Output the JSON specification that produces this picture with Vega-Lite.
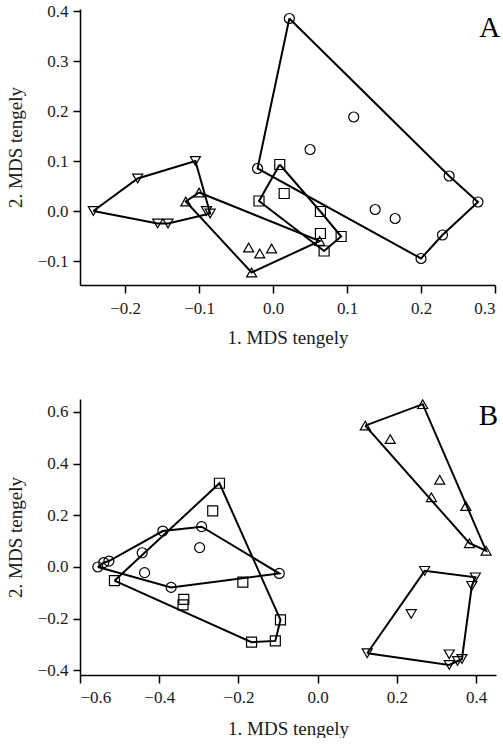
{
  "$schema": "https://vega.github.io/schema/vega-lite/v6.json",
  "background": "white",
  "padding": {"left": 6, "top": 2, "right": 0, "bottom": 0},
  "spacing": 50,
  "config": {
    "view": {"stroke": null}
  },
  "datasets": {
    "points": [
      {"panel": "A", "group": "circle", "x": 0.022, "y": 0.385},
      {"panel": "A", "group": "circle", "x": -0.021, "y": 0.085},
      {"panel": "A", "group": "circle", "x": 0.05, "y": 0.123},
      {"panel": "A", "group": "circle", "x": 0.109, "y": 0.188},
      {"panel": "A", "group": "circle", "x": 0.238, "y": 0.07},
      {"panel": "A", "group": "circle", "x": 0.277, "y": 0.018},
      {"panel": "A", "group": "circle", "x": 0.229, "y": -0.048},
      {"panel": "A", "group": "circle", "x": 0.2, "y": -0.095},
      {"panel": "A", "group": "circle", "x": 0.138, "y": 0.003},
      {"panel": "A", "group": "circle", "x": 0.165, "y": -0.015},
      {"panel": "A", "group": "square", "x": 0.009, "y": 0.093},
      {"panel": "A", "group": "square", "x": 0.015, "y": 0.035},
      {"panel": "A", "group": "square", "x": -0.019, "y": 0.02},
      {"panel": "A", "group": "square", "x": 0.064, "y": -0.001},
      {"panel": "A", "group": "square", "x": 0.064, "y": -0.045},
      {"panel": "A", "group": "square", "x": 0.069, "y": -0.08},
      {"panel": "A", "group": "square", "x": 0.092, "y": -0.051},
      {"panel": "A", "group": "up", "x": -0.1, "y": 0.037},
      {"panel": "A", "group": "up", "x": -0.118, "y": 0.019},
      {"panel": "A", "group": "up", "x": -0.029, "y": -0.123},
      {"panel": "A", "group": "up", "x": -0.033, "y": -0.073},
      {"panel": "A", "group": "up", "x": -0.018, "y": -0.085},
      {"panel": "A", "group": "up", "x": -0.002, "y": -0.075},
      {"panel": "A", "group": "up", "x": 0.063, "y": -0.06},
      {"panel": "A", "group": "down", "x": -0.243, "y": 0.0},
      {"panel": "A", "group": "down", "x": -0.183, "y": 0.065},
      {"panel": "A", "group": "down", "x": -0.105, "y": 0.1},
      {"panel": "A", "group": "down", "x": -0.156, "y": -0.025},
      {"panel": "A", "group": "down", "x": -0.142, "y": -0.025},
      {"panel": "A", "group": "down", "x": -0.09, "y": 0.0},
      {"panel": "A", "group": "down", "x": -0.085, "y": -0.005},
      {"panel": "B", "group": "circle", "x": -0.555, "y": 0.0},
      {"panel": "B", "group": "circle", "x": -0.54, "y": 0.017},
      {"panel": "B", "group": "circle", "x": -0.527, "y": 0.023},
      {"panel": "B", "group": "circle", "x": -0.443, "y": 0.055},
      {"panel": "B", "group": "circle", "x": -0.391, "y": 0.139},
      {"panel": "B", "group": "circle", "x": -0.293, "y": 0.156},
      {"panel": "B", "group": "circle", "x": -0.298, "y": 0.075},
      {"panel": "B", "group": "circle", "x": -0.437, "y": -0.022},
      {"panel": "B", "group": "circle", "x": -0.37, "y": -0.079},
      {"panel": "B", "group": "circle", "x": -0.097, "y": -0.025},
      {"panel": "B", "group": "square", "x": -0.248, "y": 0.324},
      {"panel": "B", "group": "square", "x": -0.265, "y": 0.217},
      {"panel": "B", "group": "square", "x": -0.513, "y": -0.053},
      {"panel": "B", "group": "square", "x": -0.338, "y": -0.125},
      {"panel": "B", "group": "square", "x": -0.34, "y": -0.147},
      {"panel": "B", "group": "square", "x": -0.189, "y": -0.059},
      {"panel": "B", "group": "square", "x": -0.094, "y": -0.205},
      {"panel": "B", "group": "square", "x": -0.107, "y": -0.286},
      {"panel": "B", "group": "square", "x": -0.167, "y": -0.291},
      {"panel": "B", "group": "up", "x": 0.265, "y": 0.63},
      {"panel": "B", "group": "up", "x": 0.12, "y": 0.547},
      {"panel": "B", "group": "up", "x": 0.183, "y": 0.495},
      {"panel": "B", "group": "up", "x": 0.308, "y": 0.337},
      {"panel": "B", "group": "up", "x": 0.287, "y": 0.27},
      {"panel": "B", "group": "up", "x": 0.374, "y": 0.236},
      {"panel": "B", "group": "up", "x": 0.383, "y": 0.092},
      {"panel": "B", "group": "up", "x": 0.425, "y": 0.063},
      {"panel": "B", "group": "down", "x": 0.27, "y": -0.015},
      {"panel": "B", "group": "down", "x": 0.398, "y": -0.04},
      {"panel": "B", "group": "down", "x": 0.389, "y": -0.073},
      {"panel": "B", "group": "down", "x": 0.236, "y": -0.182},
      {"panel": "B", "group": "down", "x": 0.125, "y": -0.334},
      {"panel": "B", "group": "down", "x": 0.332, "y": -0.338},
      {"panel": "B", "group": "down", "x": 0.332, "y": -0.379},
      {"panel": "B", "group": "down", "x": 0.353, "y": -0.364},
      {"panel": "B", "group": "down", "x": 0.364, "y": -0.356}
    ],
    "hulls": [
      {"panel": "A", "group": "circle", "order": 1, "x": 0.022, "y": 0.385},
      {"panel": "A", "group": "circle", "order": 2, "x": 0.238, "y": 0.07},
      {"panel": "A", "group": "circle", "order": 3, "x": 0.277, "y": 0.018},
      {"panel": "A", "group": "circle", "order": 4, "x": 0.229, "y": -0.048},
      {"panel": "A", "group": "circle", "order": 5, "x": 0.2, "y": -0.095},
      {"panel": "A", "group": "circle", "order": 6, "x": -0.021, "y": 0.085},
      {"panel": "A", "group": "circle", "order": 7, "x": 0.022, "y": 0.385},
      {"panel": "A", "group": "square", "order": 1, "x": 0.009, "y": 0.093},
      {"panel": "A", "group": "square", "order": 2, "x": 0.064, "y": -0.001},
      {"panel": "A", "group": "square", "order": 3, "x": 0.092, "y": -0.051},
      {"panel": "A", "group": "square", "order": 4, "x": 0.069, "y": -0.08},
      {"panel": "A", "group": "square", "order": 5, "x": -0.019, "y": 0.02},
      {"panel": "A", "group": "square", "order": 6, "x": 0.009, "y": 0.093},
      {"panel": "A", "group": "up", "order": 1, "x": -0.1, "y": 0.037},
      {"panel": "A", "group": "up", "order": 2, "x": 0.063, "y": -0.06},
      {"panel": "A", "group": "up", "order": 3, "x": -0.029, "y": -0.123},
      {"panel": "A", "group": "up", "order": 4, "x": -0.118, "y": 0.019},
      {"panel": "A", "group": "up", "order": 5, "x": -0.1, "y": 0.037},
      {"panel": "A", "group": "down", "order": 1, "x": -0.243, "y": 0.0},
      {"panel": "A", "group": "down", "order": 2, "x": -0.183, "y": 0.065},
      {"panel": "A", "group": "down", "order": 3, "x": -0.105, "y": 0.1},
      {"panel": "A", "group": "down", "order": 4, "x": -0.085, "y": -0.005},
      {"panel": "A", "group": "down", "order": 5, "x": -0.142, "y": -0.025},
      {"panel": "A", "group": "down", "order": 6, "x": -0.156, "y": -0.025},
      {"panel": "A", "group": "down", "order": 7, "x": -0.243, "y": 0.0},
      {"panel": "B", "group": "circle", "order": 1, "x": -0.555, "y": 0.0},
      {"panel": "B", "group": "circle", "order": 2, "x": -0.54, "y": 0.017},
      {"panel": "B", "group": "circle", "order": 3, "x": -0.527, "y": 0.023},
      {"panel": "B", "group": "circle", "order": 4, "x": -0.391, "y": 0.139},
      {"panel": "B", "group": "circle", "order": 5, "x": -0.293, "y": 0.156},
      {"panel": "B", "group": "circle", "order": 6, "x": -0.097, "y": -0.025},
      {"panel": "B", "group": "circle", "order": 7, "x": -0.37, "y": -0.079},
      {"panel": "B", "group": "circle", "order": 8, "x": -0.555, "y": 0.0},
      {"panel": "B", "group": "square", "order": 1, "x": -0.513, "y": -0.053},
      {"panel": "B", "group": "square", "order": 2, "x": -0.248, "y": 0.324},
      {"panel": "B", "group": "square", "order": 3, "x": -0.094, "y": -0.205},
      {"panel": "B", "group": "square", "order": 4, "x": -0.107, "y": -0.286},
      {"panel": "B", "group": "square", "order": 5, "x": -0.167, "y": -0.291},
      {"panel": "B", "group": "square", "order": 6, "x": -0.513, "y": -0.053},
      {"panel": "B", "group": "up", "order": 1, "x": 0.12, "y": 0.547},
      {"panel": "B", "group": "up", "order": 2, "x": 0.265, "y": 0.63},
      {"panel": "B", "group": "up", "order": 3, "x": 0.425, "y": 0.063},
      {"panel": "B", "group": "up", "order": 4, "x": 0.383, "y": 0.092},
      {"panel": "B", "group": "up", "order": 5, "x": 0.12, "y": 0.547},
      {"panel": "B", "group": "down", "order": 1, "x": 0.125, "y": -0.334},
      {"panel": "B", "group": "down", "order": 2, "x": 0.27, "y": -0.015},
      {"panel": "B", "group": "down", "order": 3, "x": 0.398, "y": -0.04},
      {"panel": "B", "group": "down", "order": 4, "x": 0.389, "y": -0.073},
      {"panel": "B", "group": "down", "order": 5, "x": 0.364, "y": -0.356},
      {"panel": "B", "group": "down", "order": 6, "x": 0.332, "y": -0.379},
      {"panel": "B", "group": "down", "order": 7, "x": 0.125, "y": -0.334}
    ],
    "labels": [
      {"panel": "A", "x": 0.293, "y": 0.366, "text": "A"},
      {"panel": "B", "x": 0.431, "y": 0.583, "text": "B"}
    ]
  },
  "vconcat": [
    {
      "width": 415,
      "height": 276,
      "layer": [
        {
          "data": {"name": "hulls"},
          "transform": [{"filter": "datum.panel === 'A'"}],
          "mark": {"type": "line", "color": "black", "strokeWidth": 2},
          "encoding": {
            "x": {"field": "x", "type": "quantitative", "scale": {"domain": [-0.261, 0.3], "nice": false, "zero": false},
              "axis": {"values": [-0.2, -0.1, 0, 0.1, 0.2, 0.3], "format": ".1f", "title": "1. MDS tengely", "titlePadding": 12, "grid": false,
                "domainColor": "black", "domainWidth": 1.5, "tickColor": "black", "tickWidth": 1.5, "tickSize": 8, "labelPadding": 7,
                "labelFont": "Liberation Serif", "labelFontSize": 17, "labelColor": "#1a1a1a", "titleFont": "Liberation Serif", "titleFontSize": 19, "titleFontWeight": "normal", "titleColor": "#1a1a1a"}},
            "y": {"field": "y", "type": "quantitative", "scale": {"domain": [-0.148, 0.404], "nice": false, "zero": false},
              "axis": {"values": [-0.1, 0, 0.1, 0.2, 0.3, 0.4], "format": ".1f", "title": "2. MDS tengely", "titlePadding": 12, "grid": false,
                "domainColor": "black", "domainWidth": 1.5, "tickColor": "black", "tickWidth": 1.5, "tickSize": 7, "labelPadding": 5,
                "labelFont": "Liberation Serif", "labelFontSize": 17, "labelColor": "#1a1a1a", "titleFont": "Liberation Serif", "titleFontSize": 19, "titleFontWeight": "normal", "titleColor": "#1a1a1a"}},
            "detail": {"field": "group"},
            "order": {"field": "order", "type": "quantitative"}
          }
        },
        {
          "data": {"name": "points"},
          "transform": [{"filter": "datum.panel === 'A'"}],
          "mark": {"type": "point", "filled": false, "color": "black", "strokeWidth": 1.2, "size": 100, "opacity": 1},
          "encoding": {
            "x": {"field": "x", "type": "quantitative"},
            "y": {"field": "y", "type": "quantitative"},
            "shape": {"field": "group", "type": "nominal", "scale": {"domain": ["circle", "square", "up", "down"], "range": ["circle", "square", "triangle-up", "triangle-down"]}, "legend": null}
          }
        },
        {
          "data": {"name": "labels"},
          "transform": [{"filter": "datum.panel === 'A'"}],
          "mark": {"type": "text", "fontSize": 29, "font": "Liberation Serif", "color": "black", "align": "center", "baseline": "middle"},
          "encoding": {
            "x": {"field": "x", "type": "quantitative"},
            "y": {"field": "y", "type": "quantitative"},
            "text": {"field": "text"}
          }
        }
      ]
    },
    {
      "width": 416,
      "height": 276,
      "layer": [
        {
          "data": {"name": "hulls"},
          "transform": [{"filter": "datum.panel === 'B'"}],
          "mark": {"type": "line", "color": "black", "strokeWidth": 2},
          "encoding": {
            "x": {"field": "x", "type": "quantitative", "scale": {"domain": [-0.6, 0.45], "nice": false, "zero": false},
              "axis": {"values": [-0.6, -0.4, -0.2, 0, 0.2, 0.4], "format": ".1f", "title": "1. MDS tengely", "titlePadding": 14, "grid": false,
                "domainColor": "black", "domainWidth": 1.5, "tickColor": "black", "tickWidth": 1.5, "tickSize": 8, "labelPadding": 6,
                "labelFont": "Liberation Serif", "labelFontSize": 17, "labelColor": "#1a1a1a", "titleFont": "Liberation Serif", "titleFontSize": 19, "titleFontWeight": "normal", "titleColor": "#1a1a1a"}},
            "y": {"field": "y", "type": "quantitative", "scale": {"domain": [-0.418, 0.65], "nice": false, "zero": false},
              "axis": {"values": [-0.4, -0.2, 0, 0.2, 0.4, 0.6], "format": ".1f", "title": "2. MDS tengely", "titlePadding": 12, "grid": false,
                "domainColor": "black", "domainWidth": 1.5, "tickColor": "black", "tickWidth": 1.5, "tickSize": 7, "labelPadding": 5,
                "labelFont": "Liberation Serif", "labelFontSize": 17, "labelColor": "#1a1a1a", "titleFont": "Liberation Serif", "titleFontSize": 19, "titleFontWeight": "normal", "titleColor": "#1a1a1a"}},
            "detail": {"field": "group"},
            "order": {"field": "order", "type": "quantitative"}
          }
        },
        {
          "data": {"name": "points"},
          "transform": [{"filter": "datum.panel === 'B'"}],
          "mark": {"type": "point", "filled": false, "color": "black", "strokeWidth": 1.2, "size": 100, "opacity": 1},
          "encoding": {
            "x": {"field": "x", "type": "quantitative"},
            "y": {"field": "y", "type": "quantitative"},
            "shape": {"field": "group", "type": "nominal", "scale": {"domain": ["circle", "square", "up", "down"], "range": ["circle", "square", "triangle-up", "triangle-down"]}, "legend": null}
          }
        },
        {
          "data": {"name": "labels"},
          "transform": [{"filter": "datum.panel === 'B'"}],
          "mark": {"type": "text", "fontSize": 29, "font": "Liberation Serif", "color": "black", "align": "center", "baseline": "middle"},
          "encoding": {
            "x": {"field": "x", "type": "quantitative"},
            "y": {"field": "y", "type": "quantitative"},
            "text": {"field": "text"}
          }
        }
      ]
    }
  ]
}
